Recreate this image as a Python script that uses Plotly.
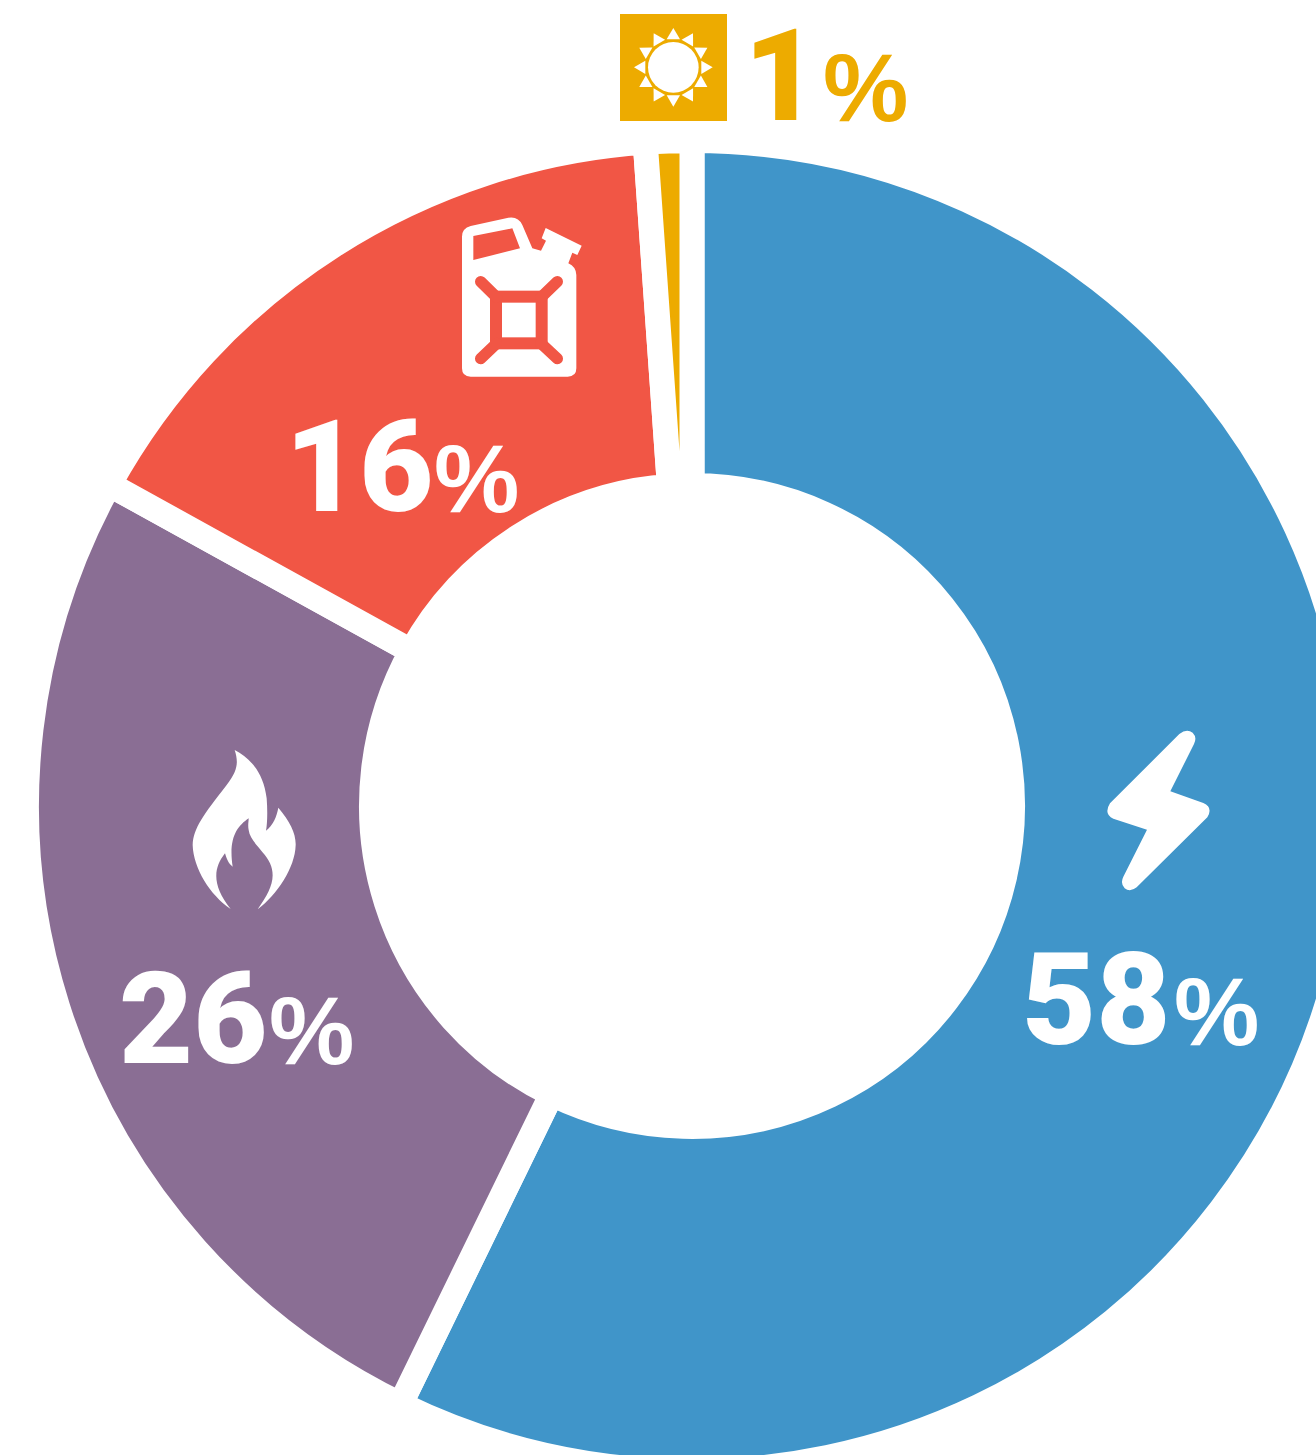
import base64, math
import plotly.graph_objects as go

# ---- data ----
sources = ["Electricity", "Natural gas", "Petroleum", "Solar"]
arc_values = [57.2, 25.8, 15.85, 1.12]
shown_percent = ["58", "26", "16", "1"]
colors = ["#4095C9", "#8A6E94", "#F15645", "#EDAB00"]
label_colors = ["#FFFFFF", "#FFFFFF", "#FFFFFF", "#EDAB00"]
# page-pixel layout of the labels: digit left, % left, baselines
digit_x = [1021, 118, 284, 743]
pct_x = [1173, 268, 433, 822]
baselines = [1046, 1065, 513, 122]
pct_baselines = [1046, 1065, 513, 123]

W, H = 1400, 1500
CX, CY = 692, 806
R_OUT, R_IN = 653, 333
GAP = 25
R = R_OUT + GAP / 2
HOLE = (R_IN - GAP / 2) / R
DIGIT_FS, PCT_FS = 128, 96
FONT = "Liberation Sans"
DIGIT_FONT = "Roboto"

def px(x):
    return x / W

def py(y):
    return 1 - y / H

fig = go.Figure(go.Pie(
    labels=sources, values=arc_values, sort=False, direction="clockwise", rotation=0,
    hole=HOLE, textinfo="none", hoverinfo="label", showlegend=False,
    marker=dict(colors=colors, line=dict(color="#FFFFFF", width=GAP)),
    domain=dict(x=[px(CX - R), px(CX + R)], y=[py(CY + R), py(CY - R)]),
))

annotations = []
for s, c, dx, px_, b, pb in zip(shown_percent, label_colors, digit_x, pct_x, baselines, pct_baselines):
    annotations.append(dict(text=s, x=px(dx), y=py(b - 46), xref="paper", yref="paper",
                            xanchor="left", yanchor="middle", showarrow=False, borderpad=0,
                            font=dict(family=DIGIT_FONT, size=DIGIT_FS, color=c, weight=900)))
    annotations.append(dict(text="<b>%</b>", x=px(px_), y=py(pb - 35), xref="paper", yref="paper",
                            xanchor="left", yanchor="middle", showarrow=False, borderpad=0,
                            font=dict(family=FONT, size=PCT_FS, color=c)))

RED = colors[2]
GOLD = colors[3]

can = (
    f'<path fill="#fff" fill-rule="evenodd" d="M66 110 Q66 85 92 78 L205 53 Q235 48 247 75 L277 145 L303 152 '
    'L318 122 L305 115 L317 84 L425 137 L412 165 L397 158 L385 190 Q408 200 409 225 L409 505 Q409 530 383 530 '
    'L92 530 Q66 530 66 505 Z M100 108 L217 85 L240 145 L100 180 Z"/>'
    f'<g stroke="{RED}" fill="none"><rect x="168" y="290" width="137" height="140" stroke-width="36"/>'
    '<path stroke-width="34" stroke-linecap="round" d="M122 245 L170 292 M352 245 L303 292 M122 476 L170 430 M352 476 L303 430"/></g>'
)
flame = (
    '<path fill="#fff" d="M194 45 C240 70 280 110 290 190 C293 230 292 265 288 287 C310 270 320 245 325 218 '
    'C360 260 378 295 377 330 C375 400 320 480 263 523 C300 470 320 430 300 385 C285 350 240 320 236 285 '
    'C233 270 236 260 236 250 C200 275 175 310 188 395 C175 385 170 372 165 355 C130 400 125 450 182 522 '
    'C120 480 70 400 68 330 C70 280 100 240 170 150 C205 105 205 80 194 45 Z"/>'
)
bolt = (
    '<path fill="#fff" d="M268 42 Q290 25 308 38 Q322 52 312 72 L241 214 L340 249 Q370 262 352 292 L140 502 '
    'Q120 518 104 505 Q90 490 100 470 L171 329 L70 296 Q40 282 60 250 Z"/>'
)
rays = ""
for i in range(12):
    a = math.radians(i * 30)
    pts = [(118, 0), (84, -20), (84, 20)]
    p = " ".join(f"{190 + r * math.sin(a) + w * math.cos(a):.1f},{187 - r * math.cos(a) + w * math.sin(a):.1f}"
                 for r, w in pts)
    rays += f'<polygon fill="#fff" points="{p}"/>'
sun = f'<rect x="30" y="27" width="321" height="321" fill="{GOLD}"/><circle cx="190" cy="187" r="76" fill="#fff"/>' + rays

# icon, crop origin on the page, crop size (drawn at 3x)
icons = [(can, 440, 200, 160, 190), (flame, 170, 735, 150, 185), (bolt, 1090, 720, 140, 180), (sun, 610, 5, 310, 130)]
images = []
for body, ox, oy, w, h in icons:
    svg = f'<svg xmlns="http://www.w3.org/2000/svg" width="{w*3}" height="{h*3}" viewBox="0 0 {w*3} {h*3}">{body}</svg>'
    uri = "data:image/svg+xml;base64," + base64.b64encode(svg.encode()).decode()
    images.append(dict(source=uri, xref="paper", yref="paper", x=px(ox), y=py(oy), sizex=w / W, sizey=h / H,
                       xanchor="left", yanchor="top", sizing="stretch", layer="above"))

fig.update_layout(width=W, height=H, margin=dict(l=0, r=0, t=0, b=0), paper_bgcolor="#FFFFFF",
                  annotations=annotations, images=images, font=dict(family=FONT))

fig.write_html("out.html", post_script="document.body.style.margin='0';document.documentElement.style.overflow='hidden';document.body.style.overflow='hidden';")
